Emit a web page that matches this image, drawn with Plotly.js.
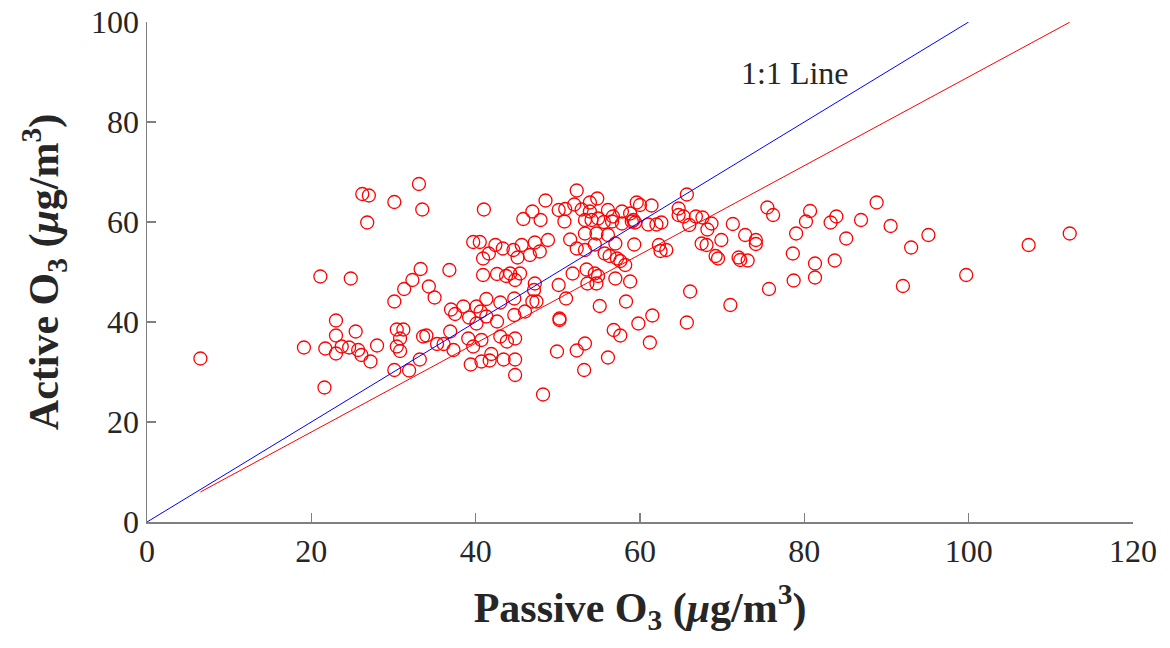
<!DOCTYPE html>
<html>
<head>
<meta charset="utf-8">
<script src="https://cdn.plot.ly/plotly-3.0.1.min.js"></script>
<style>
  html, body { margin: 0; padding: 0; background: #ffffff; }
  #chart { width: 1170px; height: 648px; }
</style>
</head>
<body>
<div id="chart"></div>
<script>
// Passive (x) vs Active (y) O3 concentrations, µg/m3
const passiveO3 = [
  6.5, 21.1, 24.8, 23.0, 23.0, 19.1, 21.7, 23.7, 23.0, 24.6, 21.6,
  33.1, 26.2, 27.0, 30.1, 33.5, 41.0, 26.8, 39.7, 40.5, 42.4, 43.3, 44.6, 41.6, 40.9, 45.1,
  33.3, 36.8, 32.3, 31.3, 34.3, 35.0, 30.1, 40.9, 42.6, 43.7,
  41.3, 44.7, 43.0, 40.1, 38.5, 37.0, 37.5, 39.2, 40.6, 41.3, 42.6, 40.1, 44.7,
  25.4, 30.4, 31.2, 30.8, 30.4, 30.8, 28.0, 25.7, 26.1, 27.2, 33.6, 34.0, 35.3, 36.1, 36.9, 37.3,
  39.1, 39.7, 40.7, 43.0, 43.8, 44.8, 33.2, 30.1, 31.9, 39.4, 40.7, 41.7, 41.9, 43.4, 44.8, 44.8,
  52.3, 48.5, 54.8, 53.9, 52.0, 50.1, 50.9, 46.9, 45.8, 47.9, 50.8, 52.9, 53.9, 53.3, 54.1, 54.9,
  55.6, 56.1, 56.7, 57.8, 56.6, 57.8, 58.8, 59.6, 60.0, 59.2, 59.4, 59.0, 61.4, 61.0, 62.0, 62.6,
  64.7, 64.7, 65.3, 65.7, 53.3, 54.7, 56.1, 57.0, 51.5, 48.8, 47.2, 45.6, 47.8, 46.6, 52.3, 53.3,
  54.5, 55.7, 56.3, 57.2, 57.6, 58.2, 59.3, 62.3, 63.2, 62.5, 44.2, 45.4, 44.8, 47.2, 47.1, 47.4,
  46.9, 50.1, 51.8, 53.5, 54.5, 54.9, 53.6, 54.7, 57.0, 58.8, 51.0, 55.1, 58.3, 66.1, 65.7, 50.2,
  50.2, 46.0, 56.8, 57.6, 59.8, 61.5, 61.2, 53.3, 52.3, 49.9, 56.1, 53.2, 48.2,
  75.5, 76.2, 80.7, 80.2, 83.9, 83.2, 86.9, 88.8, 66.8, 67.6, 68.7, 66.0, 68.2, 71.3, 69.9, 72.8,
  74.1, 74.1, 67.5, 68.1, 69.2, 69.5, 72.0, 72.2, 73.1, 79.0, 78.6, 85.1, 81.3, 83.7, 81.3, 78.7,
  75.7, 71.0, 90.5, 95.1, 93.0, 92.0, 99.7, 107.3, 112.3
];
const activeO3 = [
  32.7, 49.1, 48.7, 40.3, 37.3, 34.9, 34.7, 35.1, 33.7, 34.9, 26.9,
  67.6, 65.6, 65.3, 64.0, 62.5, 62.5, 59.9, 56.0, 56.0, 55.4, 54.7, 54.4, 53.7, 52.7, 52.9,
  50.6, 50.4, 48.4, 46.6, 47.1, 44.9, 44.1, 49.4, 49.6, 49.2,
  44.6, 44.7, 43.9, 43.1, 43.1, 42.5, 41.6, 40.9, 42.1, 41.1, 40.1, 39.7, 41.4,
  38.1, 38.5, 38.5, 36.7, 35.1, 34.2, 35.3, 34.4, 33.4, 32.1, 37.1, 37.3, 35.6, 35.6, 38.1, 34.4,
  36.7, 35.1, 36.4, 37.1, 36.1, 36.7, 32.5, 30.4, 30.3, 31.5, 32.1, 32.3, 33.6, 32.5, 32.5, 29.4,
  66.3, 64.3, 64.7, 63.9, 63.5, 62.4, 62.6, 62.1, 60.6, 60.4, 60.1, 62.5, 62.1, 60.4, 60.4, 60.7,
  60.0, 62.4, 61.1, 62.1, 60.1, 59.7, 61.7, 63.9, 63.4, 60.4, 59.9, 60.1, 63.3, 59.5, 59.5, 59.9,
  62.7, 61.4, 61.1, 65.5, 57.7, 57.7, 57.4, 55.7, 56.5, 56.4, 55.9, 55.4, 54.1, 53.4, 54.7, 54.4,
  55.5, 53.7, 53.2, 52.7, 52.2, 51.4, 55.5, 55.4, 54.4, 54.2, 49.7, 49.7, 48.4, 47.7, 46.4, 44.1,
  44.1, 47.4, 49.7, 50.5, 49.7, 49.2, 47.7, 47.7, 48.7, 48.1, 44.7, 43.2, 44.1, 46.1, 39.9, 40.7,
  40.4, 42.1, 38.4, 37.3, 39.7, 41.3, 35.9, 35.7, 34.3, 34.1, 32.9, 30.4, 25.5,
  62.9, 61.4, 62.2, 60.1, 61.1, 59.9, 60.4, 63.9, 61.1, 60.9, 59.7, 59.4, 58.5, 59.6, 56.4, 57.4,
  56.4, 55.6, 55.7, 55.4, 53.2, 52.7, 52.9, 52.4, 52.3, 57.7, 53.7, 56.7, 51.7, 52.3, 48.9, 48.3,
  46.6, 43.4, 59.2, 57.4, 54.9, 47.2, 49.4, 55.4, 57.7
];

// reference lines
const oneToOneX = [0, 100];
const fitSlope = 0.888;
const fitIntercept = 0.23;
const fitRangeX = [Math.min(...passiveO3), Math.max(...passiveO3)];

const xTickVals = [0, 20, 40, 60, 80, 100, 120];
const yTickVals = [0, 20, 40, 60, 80, 100];
const xTitle = 'Passive O<sub>3</sub> (<i>μ</i>g/m<sup>3</sup>)';
const yTitle = 'Active O<sub>3</sub> (<i>μ</i>g/m<sup>3</sup>)';
const lineLabel = '1:1 Line';

const FONT = '"Liberation Serif", "Times New Roman", serif';

const traces = [
  {
    x: passiveO3, y: activeO3, type: 'scatter', mode: 'markers',
    marker: { symbol: 'circle-open', size: 13, color: '#ff0000', line: { width: 1.3, color: '#ff0000' } },
    cliponaxis: false, hoverinfo: 'x+y'
  },
  {
    x: oneToOneX, y: oneToOneX, type: 'scatter', mode: 'lines',
    line: { color: '#0000ff', width: 1 }, hoverinfo: 'skip'
  },
  {
    x: fitRangeX, y: fitRangeX.map(v => fitSlope * v + fitIntercept), type: 'scatter', mode: 'lines',
    line: { color: '#ff0000', width: 1 }, hoverinfo: 'skip'
  }
];

const axisCommon = {
  showgrid: false, zeroline: false, showline: true,
  linecolor: '#808080', linewidth: 1.5,
  ticks: 'inside', ticklen: 9, tickwidth: 1.2, tickcolor: '#808080',
  tickfont: { family: FONT, size: 32, color: '#262626' },
  tickmode: 'array', fixedrange: true
};

const layout = {
  width: 1170, height: 648,
  margin: { l: 147, r: 37, t: 22, b: 126 },
  paper_bgcolor: '#ffffff', plot_bgcolor: '#ffffff',
  showlegend: false,
  xaxis: Object.assign({}, axisCommon, {
    range: [0, 120], tickvals: xTickVals, ticktext: xTickVals.map(String),
    title: { text: xTitle, font: { family: FONT, size: 42, color: '#262626', weight: 'bold' }, standoff: 24 }
  }),
  yaxis: Object.assign({}, axisCommon, {
    range: [0, 100], tickvals: yTickVals, ticktext: yTickVals.map(String),
    title: { text: yTitle, font: { family: FONT, size: 42, color: '#262626', weight: 'bold' }, standoff: 19 }
  }),
  annotations: [
    { x: 78.9, y: 89.8, xref: 'x', yref: 'y', text: lineLabel, showarrow: false,
      font: { family: FONT, size: 32, color: '#262626' } }
  ]
};

Plotly.newPlot('chart', traces, layout, { displayModeBar: false, staticPlot: true });
</script>
</body>
</html>
